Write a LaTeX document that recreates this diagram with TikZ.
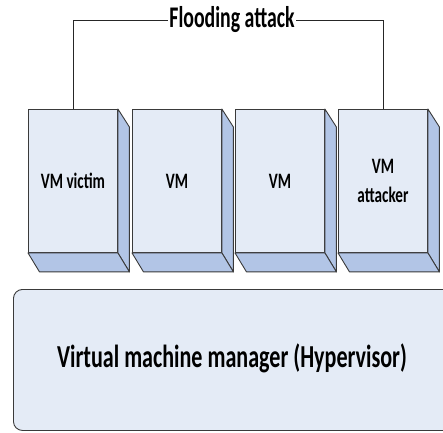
\documentclass[tikz,border=0pt]{standalone}
\usepackage{fontspec}
\usetikzlibrary{calc}
\setmainfont{Carlito}
\newfontfamily\narrowfont[FakeStretch=0.69]{Carlito}
\newfontfamily\titlefont[FakeStretch=0.66]{Carlito}
\definecolor{frontfill}{HTML}{E4EBF6}
\definecolor{sidefill}{HTML}{B2C5E6}
\definecolor{edge}{HTML}{3A3A3A}
\begin{document}
\begin{tikzpicture}[x=1pt,y=-1pt,
  vmfront/.style={draw=edge,fill=frontfill,line width=0.9pt,minimum width=89pt,minimum height=143pt,inner sep=0pt,anchor=north west,align=center,font=\narrowfont\bfseries\fontsize{22}{29}\selectfont},
  vmside/.style={draw=edge,fill=sidefill,line width=0.9pt,line join=round},
  hyper/.style={draw=edge,fill=frontfill,line width=0.9pt,rounded corners=9pt,minimum width=440pt,minimum height=141pt,inner sep=0pt,anchor=north west},
  link/.style={draw=black!85,line width=0.9pt}]
\useasboundingbox (0,0) rectangle (443,432);
% hypervisor
\node[hyper] (hv) at (13,289) {};
\node[font=\narrowfont\bfseries\fontsize{32}{36}\selectfont] (hvt) at (232,358) {Virtual machine manager (Hypervisor)};
% VM boxes
\foreach \n/\x/\t in {a/28/{VM victim},b/132/{VM},c/235/{VM},d/338/{VM\\attacker}}{
  \node[vmfront] (\n) at (\x,109) {\t};
  \path[vmside] (\n.north east) -- ++(11.5,18) -- ($(\n.south east)+(11.5,19)$) -- (\n.south east) -- cycle;
  \path[vmside] (\n.south west) -- ++(11.5,19) -- ($(\n.south east)+(11.5,19)$) -- (\n.south east) -- cycle;
}
% flooding attack
\node[font=\titlefont\bfseries\fontsize{30}{32}\selectfont,inner sep=1pt] (fl) at (232,20) {Flooding attack};
\draw[link] (a.north) |- (fl.west);
\draw[link] (d.north) |- (fl.east);
\end{tikzpicture}
\end{document}
